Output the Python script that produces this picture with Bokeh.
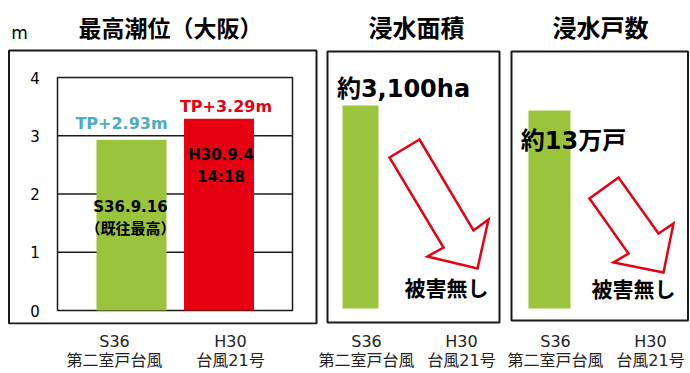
from bokeh.plotting import figure
from bokeh.models import Range1d, FixedTicker, LinearAxis
from bokeh.layouts import row
from bokeh.core.properties import value
from bokeh.embed import file_html
from bokeh.resources import INLINE

# ---------------- data ----------------
categories = ["S36\n第二室戸台風", "H30\n台風21号"]
cat_index = [0, 1]
tide_m = [2.93, 3.29]
tide_labels = ["TP+2.93m", "TP+3.29m"]
tide_notes = ["S36.9.16\n（既往最高）", "H30.9.4\n14:18"]
tide_ticks = [0, 1, 2, 3, 4]
area_ha = [3100, 0]
area_labels = ["約3,100ha", "被害無し"]
houses_man = [13, 0]          # 万戸
houses_labels = ["約13万戸", "被害無し"]
titles = ["最高潮位（大阪）", "浸水面積", "浸水戸数"]

# ---------------- style ----------------
GREEN = "#9BC43D"
RED = "#E60012"
TEAL = "#4BACC6"
INK = "#1a1a1a"
FONT = "DejaVu Sans, Noto Sans CJK JP"
FH = 373          # figure height
BOTTOM = 49       # space for the category axis


def lin(p0, p1, d0, d1):
    k = (d1 - d0) / (p1 - p0)
    return lambda p: d0 + (p - p0) * k


def make_fig(x0, width, fx, fy, lab_px):
    """x0: page x of figure; lab_px: page x of the two category labels"""
    p = figure(width=width, height=FH,
               x_range=Range1d(fx(x0), fx(x0 + width)),
               y_range=Range1d(fy(FH - BOTTOM), fy(0)),
               output_backend="svg", toolbar_location=None,
               y_axis_location=None, x_axis_location=None,
               min_border_left=0, min_border_right=0,
               min_border_top=0, min_border_bottom=BOTTOM)
    p.xgrid.visible = False
    p.ygrid.visible = False
    p.outline_line_color = None
    p.background_fill_color = "white"
    p.border_fill_color = "white"
    # category axis on its own scale
    fl = lin(lab_px[0], lab_px[1], cat_index[0], cat_index[1])
    p.extra_x_ranges = {"lab": Range1d(fl(x0), fl(x0 + width))}
    ax = LinearAxis(x_range_name="lab", ticker=FixedTicker(ticks=cat_index))
    ax.major_label_overrides = {i: c for i, c in zip(cat_index, categories)}
    ax.axis_line_color = None
    ax.major_tick_line_color = None
    ax.minor_tick_line_color = None
    ax.major_tick_in = 0
    ax.major_tick_out = 0
    ax.major_label_standoff = 7
    ax.major_label_text_font = FONT
    ax.major_label_text_font_size = "16px"
    ax.major_label_text_color = "#222222"
    ax.major_label_text_line_height = 1.0
    p.add_layout(ax, "below")
    return p


def box(p, fx, fy, l, r, t, b):
    p.quad(left=fx(l), right=fx(r), top=fy(t), bottom=fy(b),
           fill_color=None, line_color=INK, line_width=2)


def title(p, fx, fy, text, xc, size):
    p.text(x=[fx(xc)], y=[fy(28.5)], text=[text],
           text_font=value(FONT), text_font_size=size, text_font_style="bold",
           text_color="black", text_align="center", text_baseline="middle")


# ================= panel 1 : 最高潮位 =================
fx1 = lin(131, 218.5, 0, 1)
fy1 = lin(310, 77, 0, 4)
p1 = make_fig(0, 318, fx1, fy1, (114, 230))
box(p1, fx1, fy1, 8.5, 316, 50, 323)
title(p1, fx1, fy1, titles[0], 170, "23px")
p1.text(x=[fx1(19)], y=[fy1(32)], text=["m"],
        text_font=value(FONT), text_font_size="17px", text_color="black",
        text_align="center", text_baseline="alphabetic")

p1.quad(left=fx1(57), right=fx1(292), bottom=tide_ticks[0], top=tide_ticks[-1],
        fill_color=None, line_color=INK, line_width=1.5)
inner = tide_ticks[1:-1]
p1.segment(x0=[fx1(57)] * len(inner), x1=[fx1(292)] * len(inner), y0=inner, y1=inner,
           line_color=INK, line_width=1.3)
p1.vbar(x=cat_index, top=tide_m, width=0.8, fill_color=[GREEN, RED], line_color=None)
p1.text(x=[fx1(34.5)] * len(tide_ticks), y=tide_ticks, text=[str(t) for t in tide_ticks],
        text_font=value(FONT), text_font_size="15px", text_color="black",
        text_align="center", text_baseline="middle")
p1.text(x=cat_index, y=tide_m, text=tide_labels, text_color=[TEAL, RED],
        x_offset=[-10, 7], y_offset=[-16, -12],
        text_font=value(FONT), text_font_size="16px", text_font_style="bold",
        text_align="center", text_baseline="alphabetic")
p1.text(x=cat_index, y=tide_m, text=tide_notes, text_color="black",
        x_offset=[-1, 2], y_offset=[58, 27],
        text_font=value(FONT), text_font_size="15px", text_font_style="bold",
        text_align="center", text_baseline="top", text_line_height=1.25)

# ================= panel 2 : 浸水面積 =================
fx2 = lin(360, 461, 0, 1)
fy2 = lin(308, 105, 0, 3100)
p2 = make_fig(318, 187, fx2, fy2, (365, 461))
box(p2, fx2, fy2, 327, 499, 51, 322)
title(p2, fx2, fy2, titles[1], 416, "24px")
p2.vbar(x=cat_index, top=area_ha, width=0.356, fill_color=GREEN, line_color=None)
arrow2 = [(389, 157), (419, 139), (473, 230), (488, 219), (477, 268), (427, 256), (443, 247)]
p2.patch([fx2(a) for a, b in arrow2], [fy2(b) for a, b in arrow2],
         fill_color="white", line_color=RED, line_width=2.5, line_join="miter")
p2.text(x=cat_index, y=area_ha, text=area_labels, text_color="black",
        x_offset=[43, -15], y_offset=[-17, -20],
        text_font=value(FONT), text_font_size=["24px", "21px"], text_font_style="bold",
        text_align="center", text_baseline="alphabetic")

# ================= panel 3 : 浸水戸数 =================
fx3 = lin(549, 650, 0, 1)
fy3 = lin(308, 110, 0, 13)
p3 = make_fig(505, 185, fx3, fy3, (555, 650))
box(p3, fx3, fy3, 511, 687.5, 51, 320)
title(p3, fx3, fy3, titles[2], 600, "24px")
p3.vbar(x=cat_index, top=houses_man, width=0.416, fill_color=GREEN, line_color=None)
arrow3 = [(589, 198), (618, 177), (658, 233), (673, 223), (663, 272), (613, 262), (628, 253)]
p3.patch([fx3(a) for a, b in arrow3], [fy3(b) for a, b in arrow3],
         fill_color="white", line_color=RED, line_width=2.5, line_join="miter")
p3.text(x=cat_index, y=houses_man, text=houses_labels, text_color="black",
        x_offset=[24, -17], y_offset=[30, -19],
        text_font=value(FONT), text_font_size=["24px", "21px"], text_font_style="bold",
        text_align="center", text_baseline="alphabetic")

layout = row(p1, p2, p3, spacing=0)
open("out.html", "w").write(file_html(layout, INLINE))
